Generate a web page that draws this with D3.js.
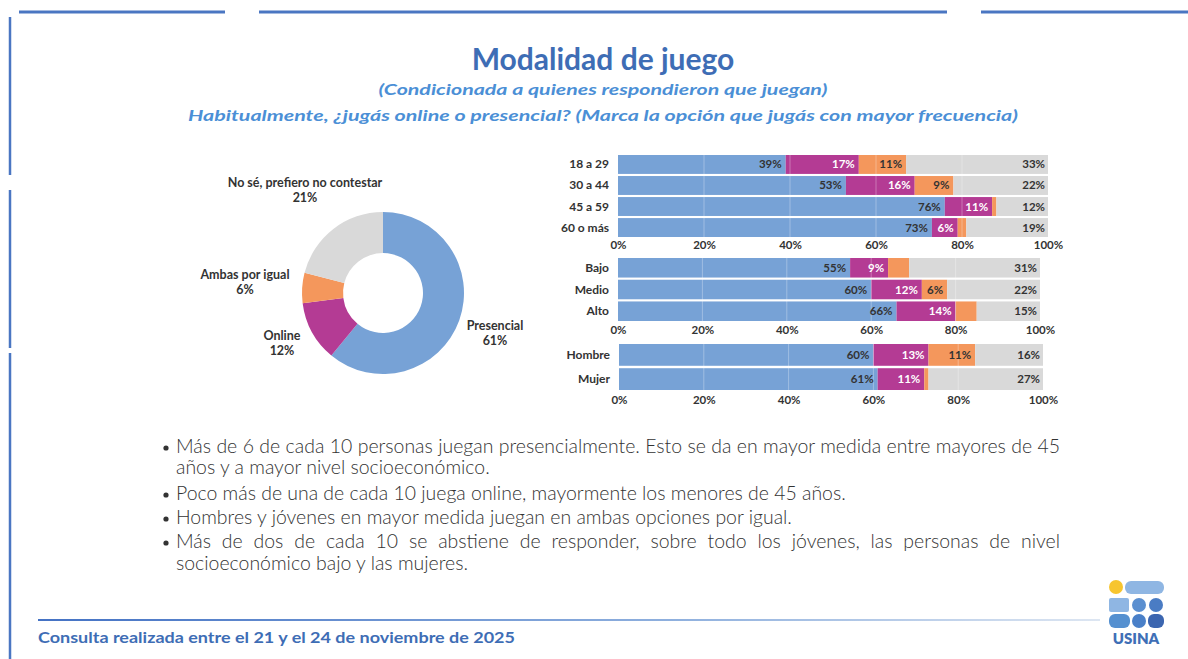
<!DOCTYPE html>
<html>
<head>
<meta charset="utf-8">
<script src="https://cdn.jsdelivr.net/npm/d3@7"></script>
<style>
  body { margin: 0; background: #fff; }
  svg { display: block; font-family: "Lato", "Open Sans", sans-serif; }
</style>
</head>
<body>
<svg id="chart" width="1188" height="659"></svg>
<script>
// DATA
const seriesKeys = ["Presencial", "Online", "Ambas por igual", "No sé, prefiero no contestar"];
const donutValues = [61, 12, 6, 21];

const ageCats = ["18 a 29", "30 a 44", "45 a 59", "60 o más"];
const agePresencial = [39, 53, 76, 73];
const ageOnline = [17, 16, 11, 6];
const ageAmbas = [11, 9, 1, 2];
const ageNoSe = [33, 22, 12, 19];

const sesCats = ["Bajo", "Medio", "Alto"];
const sesPresencial = [55, 60, 66];
const sesOnline = [9, 12, 14];
const sesAmbas = [5, 6, 5];
const sesNoSe = [31, 22, 15];

const genderCats = ["Hombre", "Mujer"];
const genderPresencial = [60, 61];
const genderOnline = [13, 11];
const genderAmbas = [11, 1];
const genderNoSe = [16, 27];

const tickValues = [0, 20, 40, 60, 80, 100];

const title = "Modalidad de juego";
const subtitle1 = "(Condicionada a quienes respondieron que juegan)";
const subtitle2 = "Habitualmente, ¿jugás online o presencial? (Marca la opción que jugás con mayor frecuencia)";
const bulletLines = [
  { text: "Más de 6 de cada 10 personas juegan presencialmente. Esto se da en mayor medida entre mayores de 45", bullet: true, justify: true },
  { text: "años y a mayor nivel socioeconómico.", bullet: false, justify: false },
  { text: "Poco más de una de cada 10 juega online, mayormente los menores de 45 años.", bullet: true, justify: false },
  { text: "Hombres y jóvenes en mayor medida juegan en ambas opciones por igual.", bullet: true, justify: false },
  { text: "Más de dos de cada 10 se abstiene de responder, sobre todo los jóvenes, las personas de nivel", bullet: true, justify: true },
  { text: "socioeconómico bajo y las mujeres.", bullet: false, justify: false }
];
const footerText = "Consulta realizada entre el 21 y el 24 de noviembre de 2025";

// STYLE
const colors = ["#77a2d6", "#b43b94", "#f4975c", "#d9d9d9"];
const labelColors = ["#333", "#fff", "#333", "#333"];
const frameBlue = "#4a76c2";

const svg = d3.select("#chart");

// frame lines
[[19, 225], [259, 947], [981, 1188]].forEach(s => {
  svg.append("line")
    .attr("x1", s[0]).attr("x2", s[1])
    .attr("y1", 12).attr("y2", 12)
    .style("stroke", frameBlue)
    .style("stroke-width", 3);
});
[[17, 175], [190, 348], [353, 659]].forEach(s => {
  svg.append("line")
    .attr("x1", 10).attr("x2", 10)
    .attr("y1", s[0]).attr("y2", s[1])
    .style("stroke", frameBlue)
    .style("stroke-width", 2.5);
});

// titles
svg.append("text")
  .attr("x", 603).attr("y", 70)
  .attr("text-anchor", "middle")
  .style("font-size", "30px").style("font-weight", 700)
  .style("fill", "#3e6db5")
  .text(title);
svg.append("text")
  .attr("x", 603).attr("y", 95)
  .attr("text-anchor", "middle")
  .attr("textLength", 449).attr("lengthAdjust", "spacingAndGlyphs")
  .style("font-size", "16px").style("font-weight", 700).style("font-style", "italic")
  .style("fill", "#4b8fd6")
  .text(subtitle1);
svg.append("text")
  .attr("x", 603).attr("y", 121)
  .attr("text-anchor", "middle")
  .attr("textLength", 830).attr("lengthAdjust", "spacingAndGlyphs")
  .style("font-size", "16px").style("font-weight", 700).style("font-style", "italic")
  .style("fill", "#4b8fd6")
  .text(subtitle2);

// DONUT
const donutG = svg.append("g").attr("transform", "translate(383,293)");
const pie = d3.pie().sort(null).value(d => d);
const arc = d3.arc().innerRadius(40).outerRadius(81);
donutG.selectAll("path")
  .data(pie(donutValues))
  .join("path")
  .attr("d", arc)
  .style("fill", (d, i) => colors[i]);

// donut label placement (layout only)
const donutLabelPos = [
  { x: 112, y: 37 },
  { x: -101, y: 47 },
  { x: -138, y: -14 },
  { x: -78, y: -106 }
];
pie(donutValues).forEach((d, i) => {
  const t = donutG.append("text")
    .attr("x", donutLabelPos[i].x).attr("y", donutLabelPos[i].y)
    .attr("text-anchor", "middle")
    .style("font-size", "12.5px").style("font-weight", 700)
    .style("fill", "#333");
  t.append("tspan").attr("x", donutLabelPos[i].x).attr("dy", 0).text(seriesKeys[i]);
  t.append("tspan").attr("x", donutLabelPos[i].x).attr("dy", 15).text(d.data + "%");
});

// STACKED BARS
function drawBars(cats, series, box) {
  const rows = cats.map((c, i) => {
    const row = { cat: c };
    seriesKeys.forEach((k, j) => row[k] = series[j][i]);
    return row;
  });
  const stacked = d3.stack().keys(seriesKeys)(rows);

  const x = d3.scaleLinear().domain([0, 100]).range([box.x0, box.x1]);
  const y = d3.scaleBand().domain(cats).range([box.y0, box.y1]).paddingInner(0.1).paddingOuter(0);
  const g = svg.append("g");

  stacked.forEach((layer, j) => {
    g.append("g").selectAll("rect")
      .data(layer)
      .join("rect")
      .attr("x", d => x(d[0]))
      .attr("y", d => y(d.data.cat))
      .attr("width", d => x(d[1]) - x(d[0]))
      .attr("height", y.bandwidth())
      .style("fill", colors[j]);
  });

  // faint grid lines over bars
  g.append("g").selectAll("line")
    .data([20, 40, 60, 80])
    .join("line")
    .attr("x1", d => x(d)).attr("x2", d => x(d))
    .attr("y1", box.y0).attr("y2", box.y1)
    .style("stroke", "#fff").style("stroke-opacity", 0.3).style("stroke-width", 1);

  // value labels
  stacked.forEach((layer, j) => {
    g.append("g").selectAll("text")
      .data(layer.filter(d => d[1] - d[0] >= 6))
      .join("text")
      .attr("x", d => j === 3 ? x(d[1]) - 3 : x(d[1]) - 4)
      .attr("y", d => y(d.data.cat) + y.bandwidth() / 2 + 4)
      .attr("text-anchor", "end")
      .style("font-size", "11.5px").style("font-weight", 700)
      .style("fill", labelColors[j])
      .text(d => (d[1] - d[0]) + "%");
  });

  // category labels
  g.append("g").selectAll("text")
    .data(cats)
    .join("text")
    .attr("x", box.x0 - 9)
    .attr("y", d => y(d) + y.bandwidth() / 2 + 4)
    .attr("text-anchor", "end")
    .style("font-size", "12px").style("font-weight", 700)
    .style("fill", "#333")
    .text(d => d);

  // x axis
  const axis = g.append("g")
    .attr("transform", `translate(0, ${box.axisY - 6})`)
    .call(d3.axisBottom(x).tickValues(tickValues).tickSize(0).tickPadding(0).tickFormat(d => d + "%"));
  axis.select(".domain").remove();
  axis.selectAll("text")
    .style("font-family", "Lato, sans-serif")
    .style("font-size", "11.5px").style("font-weight", 700)
    .style("fill", "#333");
}

drawBars(ageCats, [agePresencial, ageOnline, ageAmbas, ageNoSe],
  { x0: 618, x1: 1048, y0: 155, y1: 237, axisY: 247 });
drawBars(sesCats, [sesPresencial, sesOnline, sesAmbas, sesNoSe],
  { x0: 618, x1: 1040, y0: 258, y1: 321, axisY: 332 });
drawBars(genderCats, [genderPresencial, genderOnline, genderAmbas, genderNoSe],
  { x0: 619, x1: 1043, y0: 344, y1: 390, axisY: 402 });

// BULLETS
const lineBaselines = [453, 474, 500, 524, 548, 570];
const justifyWidth = 884;
const refLineWidth = 670;   // natural width of the third line in the reference

// size the font so the third line fills its width naturally
const probe = svg.append("text").style("font-size", "17px").style("font-weight", 300)
  .text(bulletLines[2].text);
const bulletFont = 17 * refLineWidth / probe.node().getComputedTextLength();
probe.remove();

bulletLines.forEach((l, i) => {
  if (l.bullet) {
    svg.append("circle")
      .attr("cx", 166).attr("cy", lineBaselines[i] - 5)
      .attr("r", 2.6)
      .style("fill", "#333");
  }
  const t = svg.append("text")
    .attr("x", 176).attr("y", lineBaselines[i])
    .style("font-size", bulletFont + "px").style("font-weight", 300)
    .style("fill", "#333")
    .text(l.text);
  if (l.justify) {
    const w = t.node().getComputedTextLength();
    const gaps = l.text.split(" ").length - 1;
    t.style("word-spacing", ((justifyWidth - w) / gaps) + "px");
  }
});

// FOOTER
const defs = svg.append("defs");
const grad = defs.append("linearGradient").attr("id", "footGrad")
  .attr("x1", "0%").attr("x2", "100%");
grad.append("stop").attr("offset", "0%").attr("stop-color", "#4472c4");
grad.append("stop").attr("offset", "60%").attr("stop-color", "#8fb0de");
grad.append("stop").attr("offset", "100%").attr("stop-color", "#dde6f2");
svg.append("rect")
  .attr("x", 38).attr("y", 619)
  .attr("width", 1062).attr("height", 2)
  .style("fill", "url(#footGrad)");

svg.append("text")
  .attr("x", 38).attr("y", 643)
  .attr("textLength", 477).attr("lengthAdjust", "spacingAndGlyphs")
  .style("font-size", "15.5px").style("font-weight", 700)
  .style("fill", "#3e6db5")
  .text(footerText);

// LOGO
const logo = svg.append("g");
logo.append("circle").attr("cx", 1116).attr("cy", 587).attr("r", 7).style("fill", "#f7c52f");
logo.append("rect").attr("x", 1125).attr("y", 581).attr("width", 39).attr("height", 13).attr("rx", 6).style("fill", "#8fb6e3");
logo.append("rect").attr("x", 1109).attr("y", 598).attr("width", 20).attr("height", 14).attr("rx", 2).style("fill", "#8fb6e3");
logo.append("circle").attr("cx", 1139).attr("cy", 605).attr("r", 7).style("fill", "#5b8fd0");
logo.append("circle").attr("cx", 1156).attr("cy", 605).attr("r", 7).style("fill", "#4a7cc4");
logo.append("rect").attr("x", 1109).attr("y", 614).attr("width", 21).attr("height", 14).attr("rx", 6).style("fill", "#5590d0");
logo.append("circle").attr("cx", 1139).attr("cy", 621).attr("r", 7).style("fill", "#4a80c8");
logo.append("rect").attr("x", 1148).attr("y", 614).attr("width", 16).attr("height", 14).attr("rx", 6).style("fill", "#3c66b0");
logo.append("text")
  .attr("x", 1136).attr("y", 644)
  .attr("text-anchor", "middle")
  .style("font-size", "15px").style("font-weight", 800)
  .style("fill", "#3f6fb6")
  .text("USINA");
</script>
</body>
</html>
